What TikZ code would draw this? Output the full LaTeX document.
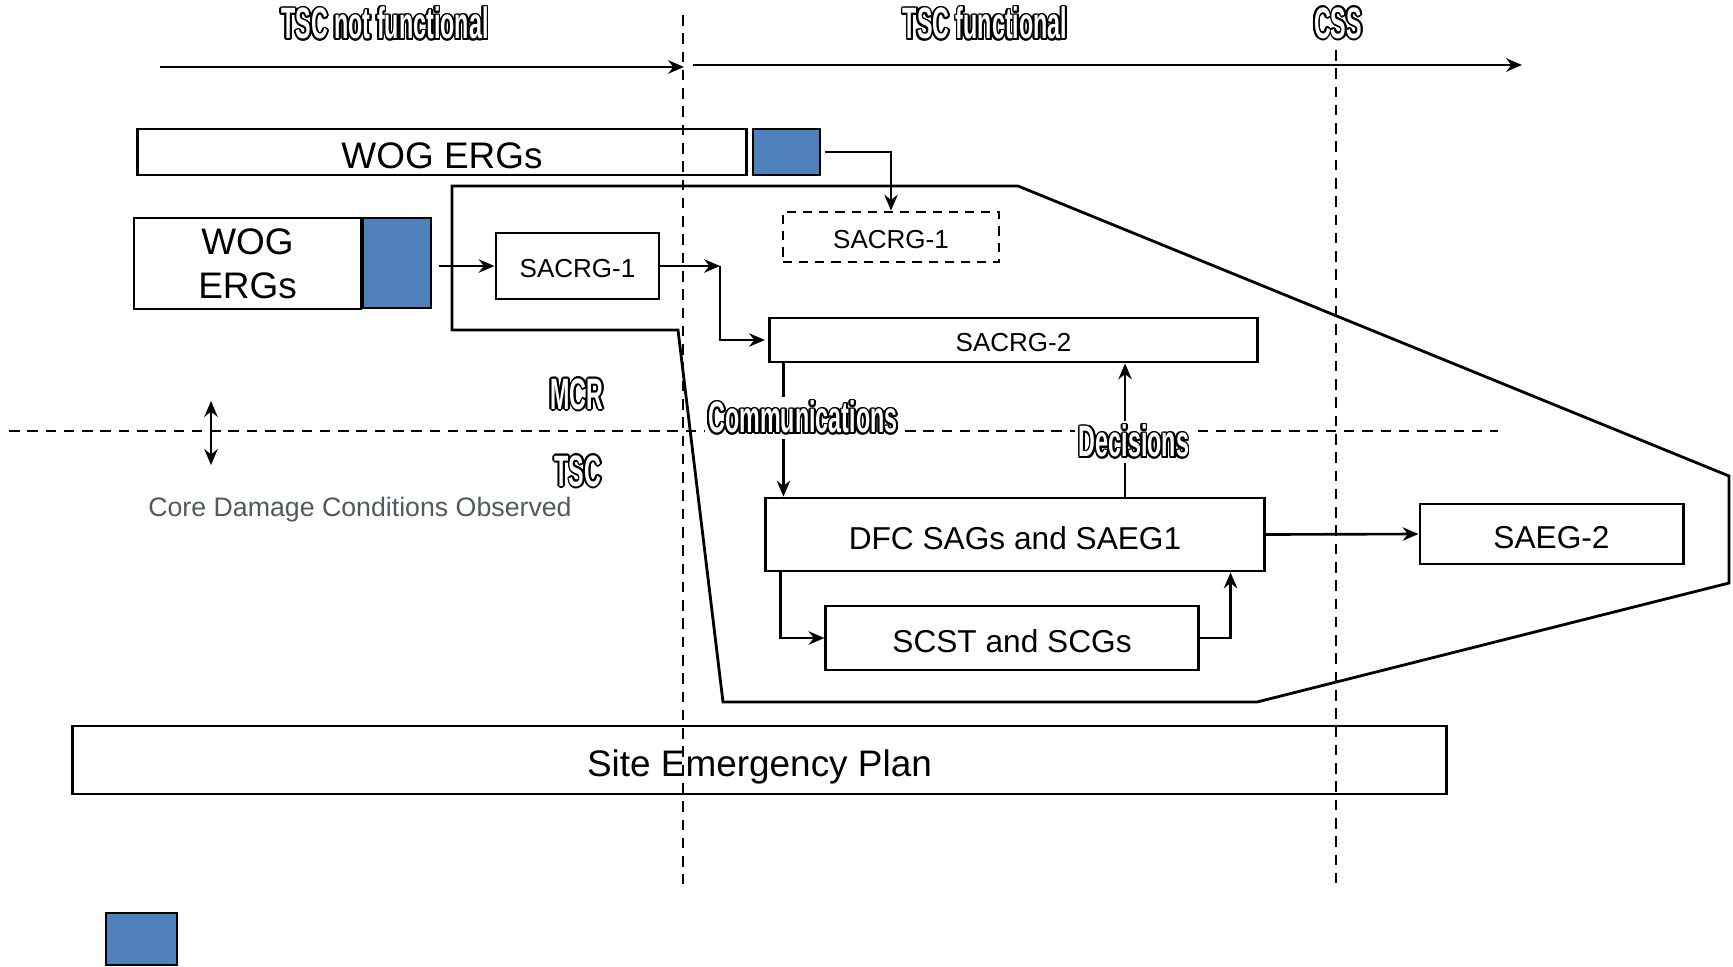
\documentclass[tikz,border=0pt]{standalone}
\usepackage{fontspec}
\setmainfont{Liberation Sans}
\newfontfamily\outlinefont[FakeStretch=0.53]{Liberation Sans}
\usepackage{contour}
\contourlength{0.5pt}
\usetikzlibrary{arrows.meta, positioning, calc}
\definecolor{ergblue}{RGB}{79,129,189}
\definecolor{notegray}{RGB}{80,88,96}

\begin{document}
\begin{tikzpicture}[x=0.01cm, y=-0.01cm,
		box/.style={draw, line width=0.8pt, inner sep=0pt, align=center},
		lowtext/.style={text height=#1, text depth=0pt},
		bluebox/.style={draw, line width=0.8pt, fill=ergblue, inner sep=0pt},
		arr/.style={-{Stealth[length=4.5pt,width=3.8pt]}, line width=0.75pt},
		phase/.style={dash pattern=on 3pt off 2.2pt, line width=0.7pt},
		bigtxt/.style={font=\fontsize{10.5}{12.6}\selectfont},
		midtxt/.style={font=\fontsize{9}{11}\selectfont, lowtext=8.3pt},
		smalltxt/.style={font=\fontsize{7.4}{9}\selectfont, lowtext=6.6pt},
		outlbl/.style={text=white, inner sep=1pt, font=\outlinefont\bfseries\fontsize{12.5}{14}\selectfont}]
	\useasboundingbox (0,0) rectangle (1733,966);
	
	% Zoomed region of the TSC phase
	\draw[line width=0.8pt] (452,186) -- (1018,186) -- (1729,476) -- (1729,583) -- (1257,702)
		-- (723,702) -- (678,330) -- (452,330) -- cycle;
	
	% Time line
	\coordinate (t0) at (160,67);
	\coordinate (t1) at (684,67);
	\coordinate (t2) at (693,65);
	\coordinate (t3) at (1522,65);
	\draw[arr, line width=0.8pt] (t0) -- (t1);
	\draw[arr, line width=0.8pt] (t2) -- (t3);
	\node[outlbl] (notfunc) at (385,24) {\contour{black}{TSC not functional}};
	\node[outlbl] (func) at (985,24) {\contour{black}{TSC functional}};
	\node[outlbl] (css) at (1338,24) {\contour{black}{CSS}};
	
	% Guidelines
	\node[box, bigtxt, lowtext=9.1pt, minimum width=6.08cm, minimum height=0.46cm] (wogA) at (442,152) {WOG ERGs};
	\node[bluebox, minimum width=0.67cm, minimum height=0.46cm] (blueA) at (786.5,152) {};
	\node[box, bigtxt, minimum width=2.27cm, minimum height=0.91cm] (wogB) at (247.5,263.5) {WOG\\ERGs};
	\node[bluebox, minimum width=0.68cm, minimum height=0.90cm] (blueB) at (397,263) {};
	\node[box, smalltxt, minimum width=1.63cm, minimum height=0.66cm] (sacrgA) at (577.5,266) {SACRG-1};
	\node[box, smalltxt, dash pattern=on 2.6pt off 2pt, minimum width=2.16cm, minimum height=0.50cm] (sacrgB) at (891,237) {SACRG-1};
	\node[box, smalltxt, minimum width=4.87cm, minimum height=0.44cm] (sacrgC) at (1013.5,340) {SACRG-2};
	\node[box, midtxt, minimum width=4.98cm, minimum height=0.73cm] (dfc) at (1015,534.5) {DFC SAGs and SAEG1};
	\node[box, midtxt, minimum width=3.72cm, minimum height=0.64cm] (scst) at (1012,638) {SCST and SCGs};
	\node[box, midtxt, minimum width=2.63cm, minimum height=0.60cm] (saeg) at (1551.5,534) {SAEG-2};
	\node[box, bigtxt, lowtext=9.1pt, minimum width=13.73cm, minimum height=0.68cm] (sep) at (759.5,760) {Site Emergency Plan};
	\node[bluebox, minimum width=0.71cm, minimum height=0.52cm] (legend) at (141.5,939) {};
	
	% Connections
	\coordinate (turn) at (720,266);
	\draw[arr, shorten <=1pt] (blueA.east) -| (sacrgB.north);
	\draw[arr, shorten <=2pt] (blueB.east |- sacrgA.west) -- (sacrgA.west);
	\draw[arr] (sacrgA.east) -- (turn);
	\draw[arr, shorten >=1pt] (turn) |- (sacrgC.west);
	\draw[arr] ([xshift=0.15cm]sacrgC.south west) -- ([xshift=0.15cm]sacrgC.south west |- dfc.north);
	\draw[arr] ([xshift=1.1cm]dfc.north) -- ([xshift=1.1cm]dfc.north |- sacrgC.south);
	\draw[arr] (dfc.east) -- (saeg.west);
	\draw[arr] ([xshift=0.16cm]dfc.south west) |- (scst.west);
	\draw[arr] (scst.east) -| ([xshift=-0.35cm]dfc.south east);
	
	% MCR / TSC split
	\draw[phase] (9,431) -- (1498,431);
	\coordinate (up) at (211,401);
	\coordinate (down) at (211,465);
	\draw[{Stealth[length=4.5pt,width=3.8pt]}-{Stealth[length=4.5pt,width=3.8pt]}, line width=0.8pt] (up) -- (down);
	\node[outlbl] (mcr) at (577,395) {\contour{black}{MCR}};
	\node[outlbl] (tsc) at (578,472) {\contour{black}{TSC}};
	\node[text=notegray, font=\fontsize{7.6}{9}\selectfont] (core) at (360,510) {Core Damage Conditions Observed};
	
	% Phase boundaries
	\draw[phase] (683,15) -- (683,884);
	\draw[phase] (1336,50) -- (1336,884);
	
	% Labels on the arrows
	\node[outlbl, fill=white] (comm) at (803,418) {\contour{black}{Communications}};
	\node[outlbl, fill=white] (dec) at (1134,442) {\contour{black}{Decisions}};
\end{tikzpicture}
\end{document}
